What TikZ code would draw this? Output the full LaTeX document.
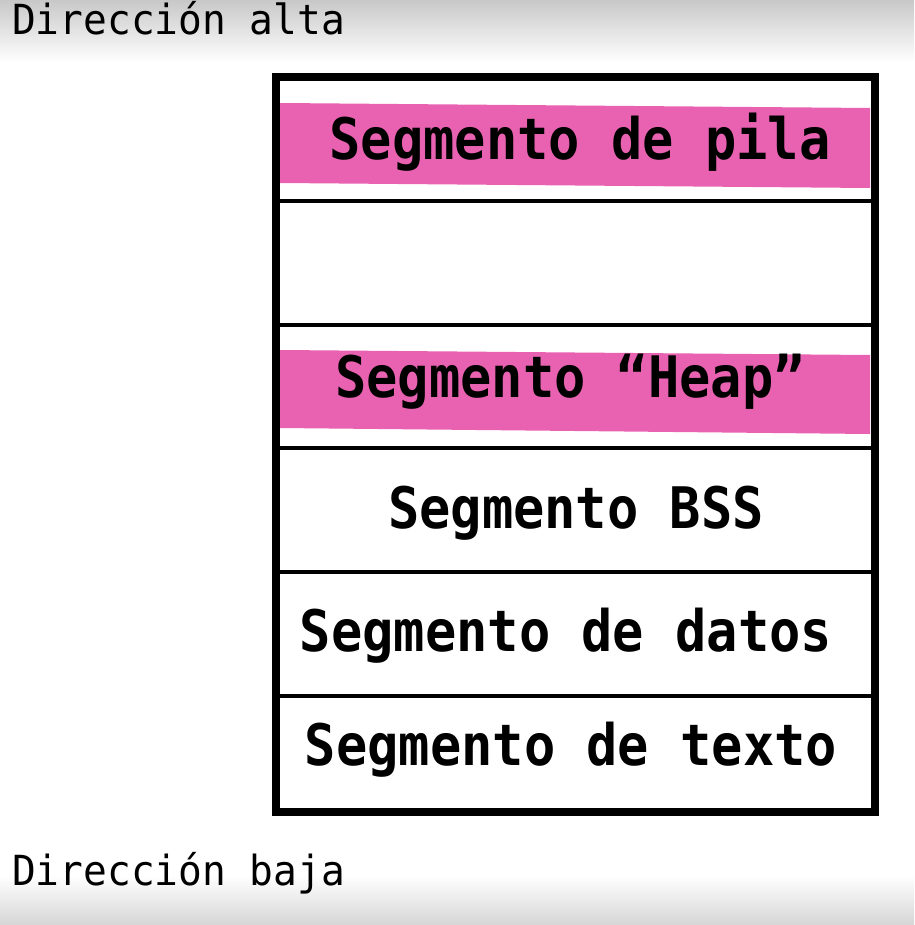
\documentclass[tikz,border=0pt]{standalone}
\usepackage{fontspec}
\setmonofont{DejaVu Sans Mono}
\definecolor{pinkband}{RGB}{233,98,178}
\definecolor{edgegray}{RGB}{200,200,200}
\newcommand{\tallseg}[1]{\scalebox{1}[1.1]{#1}}
\tikzset{
  seglabel/.style={font=\fontsize{52}{60}\selectfont\ttfamily\bfseries, anchor=base, inner sep=0pt},
  addrlabel/.style={font=\fontsize{39.5}{46}\selectfont\ttfamily, anchor=base west, inner sep=0pt},
  outerline/.style={line width=8.5pt},
  innerline/.style={line width=4.5pt},
}
\begin{document}
\begin{tikzpicture}[x=1pt,y=-1pt]
\useasboundingbox (0,0) rectangle (914,925);
% background
\fill[white] (0,0) rectangle (914,925);
\shade[top color=edgegray, bottom color=white] (0,0) rectangle (914,62);
\shade[top color=white, bottom color=edgegray!75] (0,875) rectangle (914,925);
% pink bands
\fill[pinkband] (280,103) -- (870,108) -- (870,188) -- (280,183) -- cycle;
\fill[pinkband] (280,350) -- (870,355) -- (870,434) -- (280,428) -- cycle;
% separators
\draw[innerline] (276,201) -- (875,201);
\draw[innerline] (276,325) -- (875,325);
\draw[innerline] (276,448) -- (875,448);
\draw[innerline] (276,572) -- (875,572);
\draw[innerline] (276,696) -- (875,696);
% outer box
\draw[outerline] (276,77) rectangle (875,812);
% labels
\node[seglabel] (pila) at (580,160) {\tallseg{Segmento de pila}};
\node[seglabel] (heap) at (570,397) {\tallseg{Segmento “Heap”}};
\node[seglabel] (bss) at (576,528) {\tallseg{Segmento BSS}};
\node[seglabel] (datos) at (566,651) {\tallseg{Segmento de datos}};
\node[seglabel] (texto) at (571,765) {\tallseg{Segmento de texto}};
\node[addrlabel] (alta) at (12,35) {\scalebox{1}[1.05]{Dirección alta}};
\node[addrlabel] (baja) at (12,885) {\scalebox{1}[1.05]{Dirección baja}};
\end{tikzpicture}
\end{document}
